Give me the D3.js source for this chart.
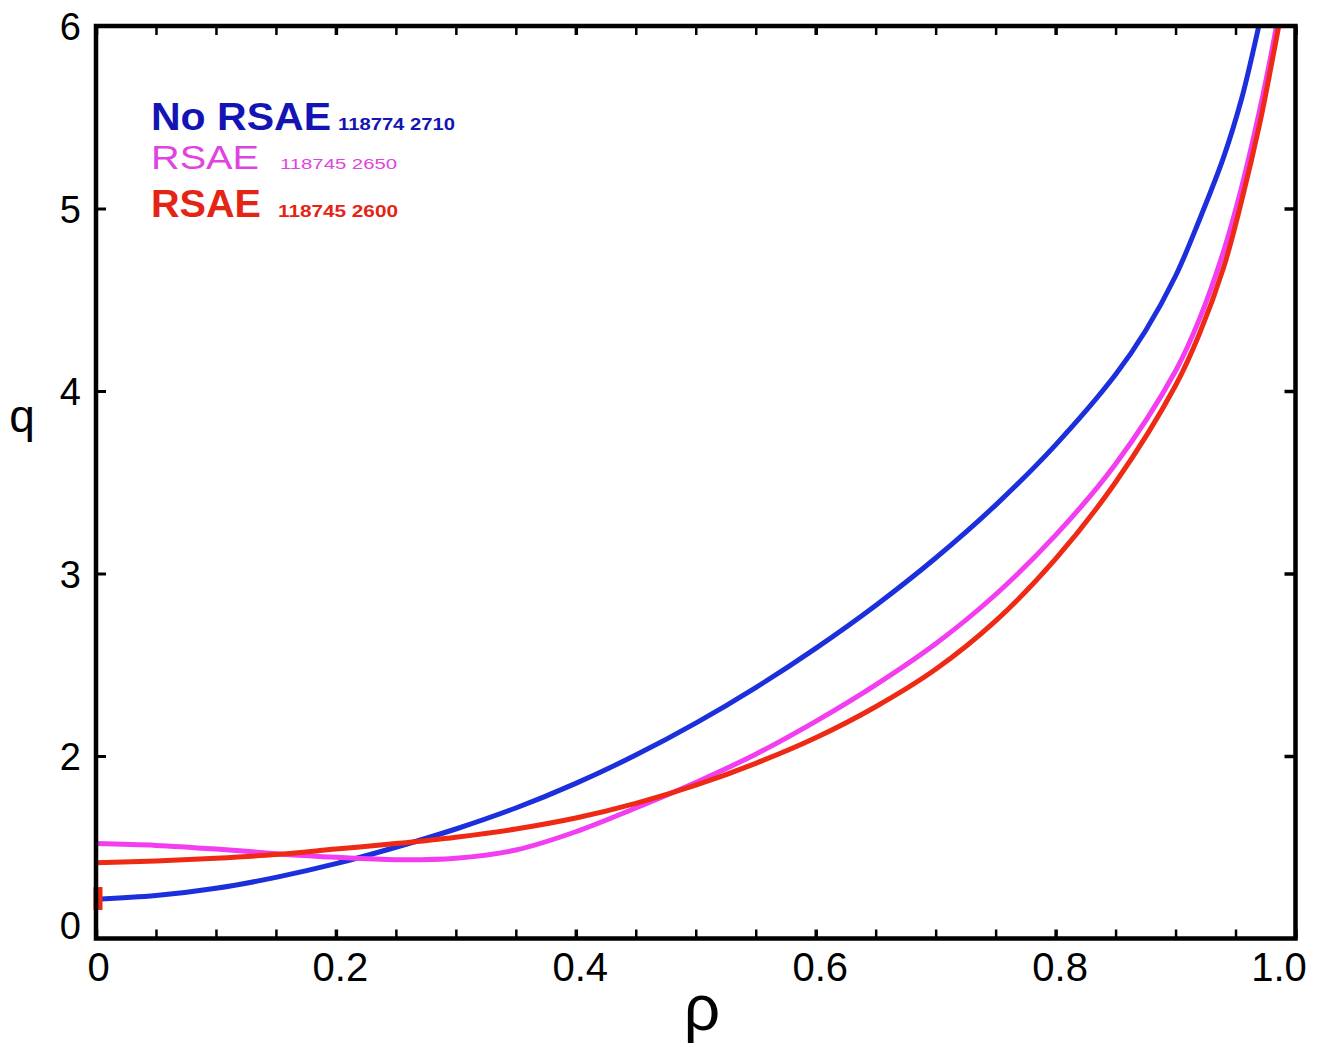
<!DOCTYPE html>
<html>
<head>
<meta charset="utf-8">
<script src="https://cdn.jsdelivr.net/npm/d3@7"></script>
<style>
  html, body { margin: 0; padding: 0; background: #fff; }
  svg { display: block; }
  text { font-family: "Liberation Sans", Arial, Helvetica, sans-serif; }
</style>
</head>
<body>
<svg id="chart" width="1317" height="1047"></svg>
<script>
// ---- data ----
const rhoBlue = [0, 0.05, 0.1, 0.15, 0.2, 0.25, 0.3, 0.35, 0.4, 0.45, 0.5, 0.55, 0.6, 0.65, 0.7, 0.75, 0.8, 0.85, 0.875, 0.9, 0.92, 0.94, 0.955, 0.966, 0.975];
const qBlue   = [1.215, 1.235, 1.275, 1.335, 1.41, 1.50, 1.60, 1.715, 1.85, 2.005, 2.18, 2.375, 2.59, 2.825, 3.085, 3.375, 3.705, 4.09, 4.33, 4.63, 4.94, 5.28, 5.60, 5.90, 6.17];

const rhoMagenta = [0, 0.05, 0.1, 0.15, 0.2, 0.25, 0.3, 0.35, 0.4, 0.45, 0.5, 0.55, 0.6, 0.65, 0.7, 0.75, 0.8, 0.85, 0.9, 0.92, 0.94, 0.955, 0.97, 0.98, 0.988];
const qMagenta   = [1.52, 1.51, 1.49, 1.465, 1.445, 1.432, 1.44, 1.485, 1.585, 1.715, 1.855, 2.01, 2.19, 2.39, 2.615, 2.885, 3.21, 3.60, 4.11, 4.395, 4.765, 5.115, 5.535, 5.855, 6.14];

const rhoRed = [0, 0.05, 0.1, 0.15, 0.2, 0.25, 0.3, 0.35, 0.4, 0.45, 0.5, 0.55, 0.6, 0.65, 0.7, 0.75, 0.8, 0.85, 0.9, 0.92, 0.94, 0.955, 0.97, 0.98, 0.99];
const qRed   = [1.415, 1.425, 1.44, 1.46, 1.49, 1.52, 1.555, 1.60, 1.66, 1.74, 1.84, 1.96, 2.10, 2.27, 2.475, 2.74, 3.08, 3.50, 4.03, 4.315, 4.675, 5.04, 5.46, 5.79, 6.14];

// red error marker at rho = 0
const markerRho = [0];
const markerLow = [1.156];
const markerHigh = [1.282];

const seriesNames  = ["No RSAE", "RSAE", "RSAE"];
const seriesShots  = ["118774 2710", "118745 2650", "118745 2600"];

const xTickValues = [0, 0.2, 0.4, 0.6, 0.8, 1.0];
const xTickLabels = ["0", "0.2", "0.4", "0.6", "0.8", "1.0"];
const xMinorTicks = d3.range(0, 21).map(i => i * 0.05);
const yTickValues = [1, 2, 3, 4, 5, 6];
const yTickLabels = ["0", "2", "3", "4", "5", "6"];
const xAxisTitle = "ρ";
const yAxisTitle = "q";

// ---- layout ----
const svg = d3.select("#chart");
const X0 = 96, X1 = 1295.5, Y0 = 938.5, Y1 = 26;
const x = d3.scaleLinear().domain([0, 1]).range([X0, X1]);
const y = d3.scaleLinear().domain([1, 6]).range([Y0, Y1]);

const lineColors = ["#1c2fdc", "#f23ef0", "#ee2a14"];
const textColors = ["#1414b4", "#e044e0", "#e42414"];

svg.append("defs").append("clipPath").attr("id", "plotclip")
  .append("rect").attr("x", X0).attr("y", Y1).attr("width", X1 - X0).attr("height", Y0 - Y1);

// ticks (inward)
const bAx = svg.append("g").attr("transform", `translate(0,${Y0})`)
  .call(d3.axisBottom(x).tickValues(xMinorTicks).tickSizeInner(-9).tickSizeOuter(0).tickFormat(""));
bAx.select(".domain").remove();
bAx.selectAll("line").attr("stroke-width", d => (Math.round(d * 100) % 20 === 0 ? 3.5 : 2.5));
const tAx = svg.append("g").attr("transform", `translate(0,${Y1})`)
  .call(d3.axisTop(x).tickValues(xMinorTicks).tickSizeInner(-9).tickSizeOuter(0).tickFormat(""));
tAx.select(".domain").remove();
tAx.selectAll("line").attr("stroke-width", d => (Math.round(d * 100) % 20 === 0 ? 3.5 : 2.5));
const lAx = svg.append("g").attr("transform", `translate(${X0},0)`)
  .call(d3.axisLeft(y).tickValues(yTickValues.slice(1, -1)).tickSizeInner(-10).tickSizeOuter(0).tickFormat(""));
lAx.select(".domain").remove();
lAx.selectAll("line").attr("stroke-width", 3);
const rAx = svg.append("g").attr("transform", `translate(${X1},0)`)
  .call(d3.axisRight(y).tickValues(yTickValues.slice(1, -1)).tickSizeInner(-11).tickSizeOuter(0).tickFormat(""));
rAx.select(".domain").remove();
rAx.selectAll("line").attr("stroke-width", 3.5);

// tick labels
const xl = svg.append("g").attr("transform", `translate(0,${Y0})`)
  .call(d3.axisBottom(x).tickValues(xTickValues).tickSize(0).tickPadding(14)
    .tickFormat((d, i) => xTickLabels[i]));
xl.select(".domain").remove();
xl.selectAll("text").attr("font-size", 40).attr("fill", "#000")
  .attr("font-family", "Liberation Sans, Arial, sans-serif")
  .attr("dx", (d, i) => i === xTickValues.length - 1 ? -17 : (i === 0 ? 2 : 4));

const yl = svg.append("g").attr("transform", `translate(${X0},0)`)
  .call(d3.axisLeft(y).tickValues(yTickValues).tickSize(0).tickPadding(14)
    .tickFormat((d, i) => yTickLabels[i]));
yl.select(".domain").remove();
yl.selectAll("text").attr("font-size", 38).attr("fill", "#000")
  .attr("font-family", "Liberation Sans, Arial, sans-serif")
  .attr("dy", (d, i) => i === 0 ? "0em" : "0.36em")
  .attr("dx", -1);

// axis titles
svg.append("text").attr("x", 22).attr("y", 432).attr("text-anchor", "middle")
  .attr("font-size", 46).attr("fill", "#000").text(yAxisTitle);
svg.append("text").attr("x", 702).attr("y", 1030).attr("text-anchor", "middle")
  .attr("font-family", "Liberation Serif, Times New Roman, serif")
  .attr("font-size", 64).attr("fill", "#000").text(xAxisTitle);

// curves
const line = d3.line().x(d => x(d[0])).y(d => y(d[1])).curve(d3.curveCatmullRom.alpha(0.5));
const series = [
  d3.zip(rhoBlue, qBlue),
  d3.zip(rhoMagenta, qMagenta),
  d3.zip(rhoRed, qRed)
];
const plotG = svg.append("g").attr("clip-path", "url(#plotclip)");
plotG.selectAll("path.curve").data(series).join("path")
  .attr("class", "curve")
  .attr("d", line)
  .attr("fill", "none")
  .attr("stroke", (d, i) => lineColors[i])
  .attr("stroke-width", 5)
  .attr("stroke-linecap", "round");

// red marker at axis
svg.selectAll("line.marker").data(markerRho).join("line")
  .attr("class", "marker")
  .attr("x1", d => x(d) + 2).attr("x2", d => x(d) + 2)
  .attr("y1", (d, i) => y(markerLow[i])).attr("y2", (d, i) => y(markerHigh[i]))
  .attr("stroke", "#ee2a14").attr("stroke-width", 9);

// frame
svg.append("rect").attr("x", X0).attr("y", Y1).attr("width", X1 - X0).attr("height", Y0 - Y1)
  .attr("fill", "none").attr("stroke", "#000").attr("stroke-width", 4.5);

// legend
const legBase = [130, 169, 217];
const legBold = [true, false, true];
const legBigSize = [38, 33, 38];
const legBigLen = [180, 108, 110];
const legSmallX = [338, 280, 278];
const legSmallSize = [17, 15.5, 16.5];
const legSmallLen = [117, 117, 120];
const leg = svg.append("g");
seriesNames.forEach((name, i) => {
  leg.append("text").attr("x", 151).attr("y", legBase[i])
    .attr("font-size", legBigSize[i]).attr("font-weight", legBold[i] ? "bold" : "normal")
    .attr("fill", textColors[i])
    .attr("textLength", legBigLen[i]).attr("lengthAdjust", "spacingAndGlyphs")
    .text(name);
  leg.append("text").attr("x", legSmallX[i]).attr("y", legBase[i])
    .attr("font-size", legSmallSize[i]).attr("font-weight", legBold[i] ? "bold" : "normal")
    .attr("fill", textColors[i])
    .attr("textLength", legSmallLen[i]).attr("lengthAdjust", "spacingAndGlyphs")
    .text(seriesShots[i]);
});
</script>
</body>
</html>
